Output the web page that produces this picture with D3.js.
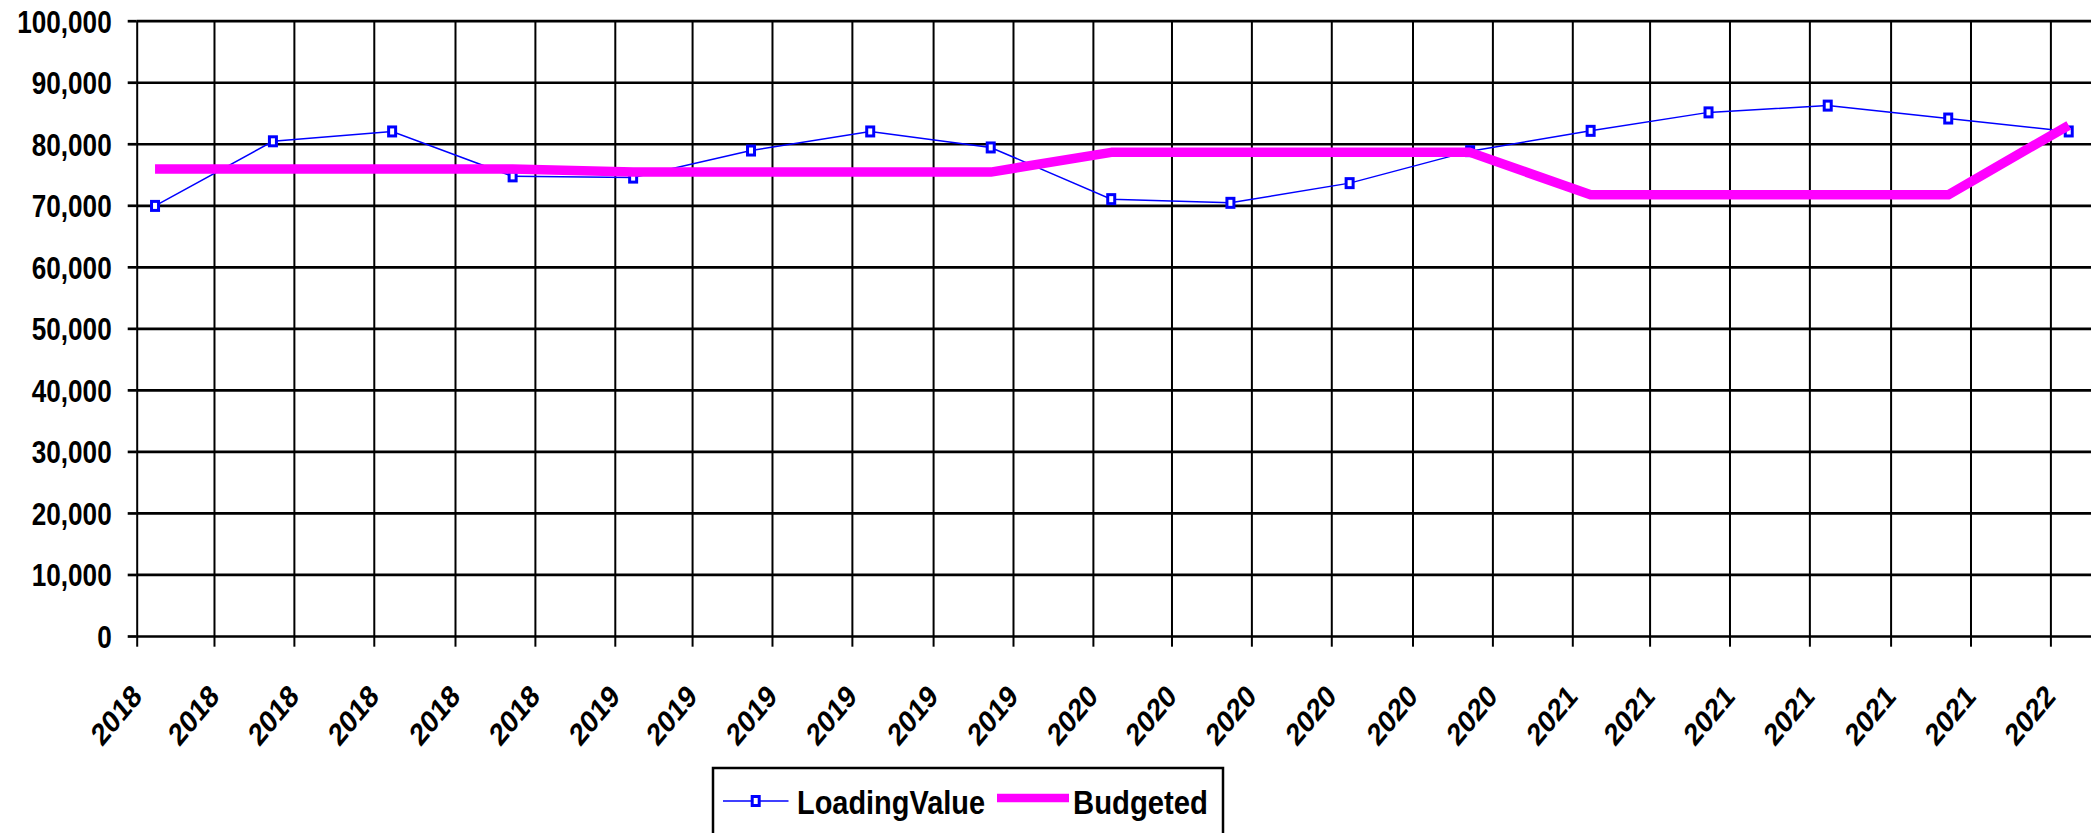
<!DOCTYPE html>
<html>
<head>
<meta charset="utf-8">
<script src="https://cdn.jsdelivr.net/npm/d3@7"></script>
<style>
  html, body { margin: 0; padding: 0; background: #fff; }
  svg { display: block; }
  text { font-family: "Liberation Sans", Arial, sans-serif; font-weight: bold; fill: #000; }
</style>
</head>
<body>
<div id="chart"></div>
<script>
"use strict";

// quarterly readings, taken mid month
var dates = ["2018-01-15", "2018-04-15", "2018-07-15", "2018-10-15",
             "2019-01-15", "2019-04-15", "2019-07-15", "2019-10-15",
             "2020-01-15", "2020-04-15", "2020-07-15", "2020-10-15",
             "2021-01-15", "2021-04-15", "2021-07-15", "2021-10-15",
             "2022-01-15"];
var loadingValue = [69900, 80400, 82000, 74700,
                    74500, 78900, 82000, 79400,
                    71000, 70400, 73600, 78800,
                    82100, 85100, 86200, 84100,
                    82000];
var budgeted = [75900, 75900, 75900, 75900,
                75400, 75400, 75400, 75400,
                78600, 78600, 78600, 78600,
                71700, 71700, 71700, 71700,
                83000];
var seriesNames = ["LoadingValue", "Budgeted"];
var xDomain = ["2018-01-01", "2022-02-01"];
var yTicks = [0, 10000, 20000, 30000, 40000, 50000, 60000, 70000, 80000, 90000, 100000];

var width = 2097;
var height = 833;
var plotLeft = 136.7, plotRight = 2091, plotTop = 20.7, plotBottom = 636;
var squeeze = 0.83;   // text in the original is narrowed horizontally

var parse = d3.timeParse("%Y-%m-%d");

var svg = d3.select("#chart")
  .append("svg")
    .attr("width", width)
    .attr("height", height);

svg.append("rect")
  .attr("width", width)
  .attr("height", height)
  .attr("fill", "#fff");

var x = d3.scaleTime()
  .domain(xDomain.map(parse))
  .range([plotLeft, plotRight]);

var y = d3.scaleLinear()
  .domain([0, 100000])
  .range([plotBottom, plotTop]);

var monthTicks = x.ticks(d3.timeMonth.every(2));

// horizontal grid
var hGrid = svg.append("g")
  .attr("transform", "translate(" + plotLeft + ",0)")
  .call(d3.axisLeft(y).tickValues(yTicks).tickSize(-(plotRight - plotLeft)).tickFormat(""));
hGrid.select(".domain").remove();
hGrid.selectAll("line").attr("stroke", "#000").attr("stroke-width", 2.7);

// vertical grid
var vGrid = svg.append("g")
  .attr("transform", "translate(0," + plotBottom + ")")
  .call(d3.axisBottom(x).tickValues(monthTicks).tickSize(-(plotBottom - plotTop)).tickFormat(""));
vGrid.select(".domain").remove();
vGrid.selectAll("line").attr("stroke", "#000").attr("stroke-width", 2);

// y axis labels
var yAxis = svg.append("g")
  .attr("transform", "translate(" + plotLeft + ",0)")
  .call(d3.axisLeft(y).tickValues(yTicks).tickSize(9).tickPadding(16).tickFormat(d3.format(",")));
yAxis.select(".domain").remove();
yAxis.selectAll("line").attr("stroke", "#000").attr("stroke-width", 2.7);
yAxis.selectAll("text")
  .attr("x", 0)
  .attr("dy", "0.36em")
  .attr("transform", "translate(-25,0) scale(" + squeeze + ",1)")
  .style("font-size", "31.5px");

// x axis labels
var xAxis = svg.append("g")
  .attr("transform", "translate(0," + plotBottom + ")")
  .call(d3.axisBottom(x).tickValues(monthTicks).tickSize(10.7).tickFormat(d3.timeFormat("%Y")));
xAxis.select(".domain").remove();
xAxis.selectAll("line").attr("stroke", "#000").attr("stroke-width", 2);
xAxis.selectAll("text")
  .attr("x", 0)
  .attr("y", 0)
  .attr("dy", null)
  .attr("text-anchor", "end")
  .attr("transform", "translate(6,62) scale(" + squeeze + ",1) rotate(-45)")
  .style("font-size", "31.5px");

var points = dates.map(function(d, i) {
  return {date: parse(d), load: loadingValue[i], budget: budgeted[i]};
});

// LoadingValue line + markers
var loadLine = d3.line()
  .x(function(d) { return x(d.date); })
  .y(function(d) { return y(d.load); });
svg.append("path")
  .datum(points)
  .attr("d", loadLine)
  .attr("fill", "none")
  .attr("stroke", "#0000ff")
  .attr("stroke-width", 1.5);

svg.selectAll("myMarkers")
  .data(points)
  .enter()
  .append("rect")
    .attr("x", function(d) { return x(d.date) - 3.5; })
    .attr("y", function(d) { return y(d.load) - 4.5; })
    .attr("width", 7)
    .attr("height", 9)
    .attr("fill", "#fff")
    .attr("stroke", "#0000ff")
    .attr("stroke-width", 3);

// Budgeted line
var budgetLine = d3.line()
  .x(function(d) { return x(d.date); })
  .y(function(d) { return y(d.budget); });
svg.append("path")
  .datum(points)
  .attr("d", budgetLine)
  .attr("fill", "none")
  .attr("stroke", "#ff00ff")
  .attr("stroke-width", 9.5)
  .attr("stroke-linejoin", "round");

// Legend
var legend = svg.append("g");
legend.append("rect")
  .attr("x", 713)
  .attr("y", 768)
  .attr("width", 510)
  .attr("height", 110)
  .attr("fill", "#fff")
  .attr("stroke", "#000")
  .attr("stroke-width", 2.5);

legend.append("line")
  .attr("x1", 723).attr("x2", 788.5)
  .attr("y1", 801).attr("y2", 801)
  .attr("stroke", "#0000ff")
  .attr("stroke-width", 1.5);
legend.append("rect")
  .attr("x", 755.7 - 3.5)
  .attr("y", 801 - 4.5)
  .attr("width", 7)
  .attr("height", 9)
  .attr("fill", "#fff")
  .attr("stroke", "#0000ff")
  .attr("stroke-width", 3);
legend.append("text")
  .attr("x", 797)
  .attr("y", 814)
  .attr("textLength", 188)
  .attr("lengthAdjust", "spacingAndGlyphs")
  .style("font-size", "34px")
  .text(seriesNames[0]);

legend.append("line")
  .attr("x1", 997).attr("x2", 1069)
  .attr("y1", 798).attr("y2", 798)
  .attr("stroke", "#ff00ff")
  .attr("stroke-width", 8.5);
legend.append("text")
  .attr("x", 1073)
  .attr("y", 814)
  .attr("textLength", 135)
  .attr("lengthAdjust", "spacingAndGlyphs")
  .style("font-size", "34px")
  .text(seriesNames[1]);
</script>
</body>
</html>
